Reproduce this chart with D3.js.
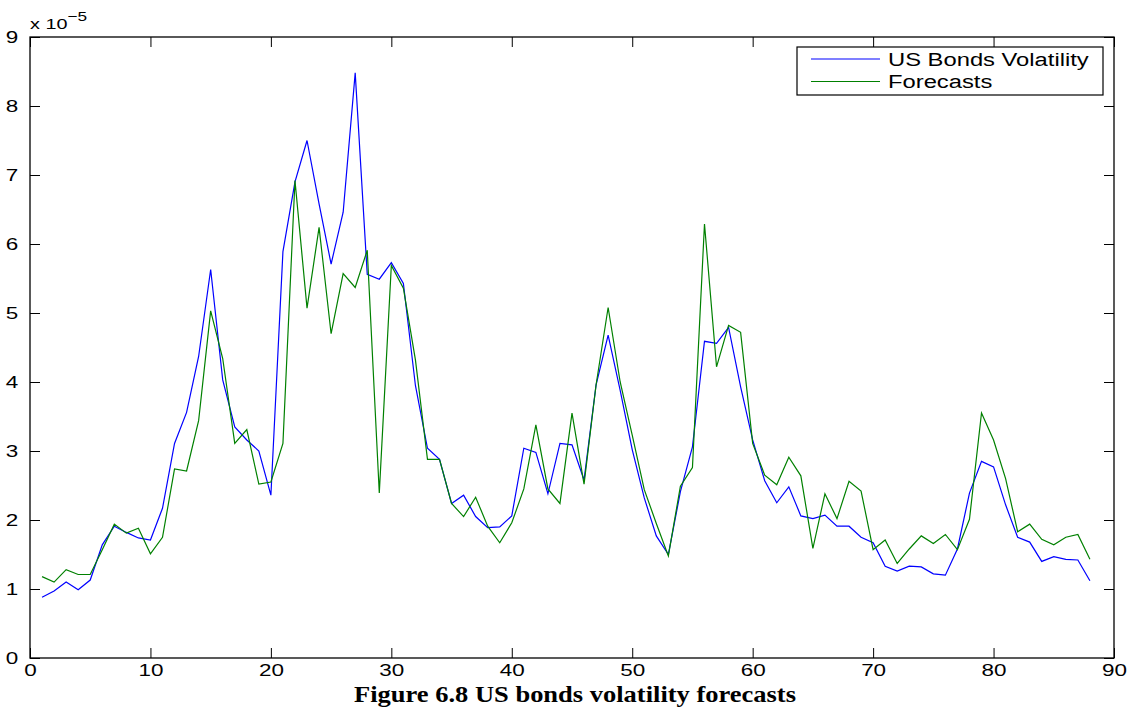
<!DOCTYPE html>
<html>
<head>
<meta charset="utf-8">
<script src="https://cdn.jsdelivr.net/npm/d3@7"></script>
<style>
  body { margin: 0; background: #fff; }
  svg { display: block; font-family: "Liberation Sans", Arial, sans-serif; }
</style>
</head>
<body>
<div id="chart"></div>
<script>
// values are in units of 1e-5
const days = d3.range(1, 89);
const actualVol = [
  0.88, 0.97, 1.10, 0.99, 1.13, 1.64, 1.91, 1.82, 1.74, 1.71,
  2.17, 3.11, 3.56, 4.37, 5.63, 4.03, 3.35, 3.16, 3.00, 2.36,
  5.89, 6.90, 7.50, 6.58, 5.71, 6.46, 8.48, 5.56, 5.49, 5.73,
  5.43, 3.95, 3.04, 2.88, 2.24, 2.36, 2.05, 1.89, 1.90, 2.06,
  3.04, 2.98, 2.38, 3.11, 3.09, 2.58, 3.96, 4.68, 3.88, 3.02,
  2.32, 1.77, 1.50, 2.41, 3.06, 4.59, 4.56, 4.79, 3.93, 3.16,
  2.57, 2.25, 2.48, 2.06, 2.02, 2.07, 1.91, 1.91, 1.75, 1.67,
  1.33, 1.26, 1.33, 1.32, 1.22, 1.20, 1.58, 2.39, 2.85, 2.77,
  2.22, 1.75, 1.68, 1.40, 1.47, 1.43, 1.42, 1.12
];
const forecastVol = [
  1.18, 1.10, 1.28, 1.21, 1.21, 1.57, 1.94, 1.81, 1.88, 1.51,
  1.75, 2.74, 2.71, 3.44, 5.03, 4.34, 3.11, 3.31, 2.52, 2.55,
  3.11, 6.92, 5.07, 6.24, 4.70, 5.57, 5.37, 5.91, 2.39, 5.69,
  5.36, 4.32, 2.88, 2.88, 2.24, 2.05, 2.33, 1.91, 1.67, 1.96,
  2.45, 3.38, 2.45, 2.24, 3.55, 2.52, 3.96, 5.08, 4.00, 3.23,
  2.44, 1.95, 1.48, 2.49, 2.76, 6.29, 4.22, 4.82, 4.72, 3.11,
  2.65, 2.51, 2.91, 2.64, 1.59, 2.38, 2.02, 2.56, 2.42, 1.57,
  1.71, 1.37, 1.58, 1.77, 1.66, 1.79, 1.57, 2.01, 3.55, 3.16,
  2.60, 1.83, 1.94, 1.72, 1.64, 1.75, 1.79, 1.43
];
const xTicks = d3.range(0, 91, 10);
const yTicks = d3.range(0, 10, 1);
const seriesNames = ['US Bonds Volatility', 'Forecasts'];
const seriesColors = ['#0000ff', '#008000'];
const caption = 'Figure 6.8 US bonds volatility forecasts';

const W = 1131, H = 709;
const margin = { top: 37, right: 17, bottom: 51, left: 30 };
const width = W - margin.left - margin.right;
const height = H - margin.top - margin.bottom;
const stretch = 1.32; // glyphs in the original are wider than normal

const svg = d3.select('#chart').append('svg')
  .attr('width', W).attr('height', H);
const g = svg.append('g')
  .attr('transform', `translate(${margin.left},${margin.top})`);

const x = d3.scaleLinear().domain([0, 90]).range([0, width]);
const y = d3.scaleLinear().domain([0, 9]).range([height, 0]);

function widen(sel) {
  sel.each(function() {
    const w = this.getComputedTextLength();
    d3.select(this).attr('textLength', w * stretch).attr('lengthAdjust', 'spacingAndGlyphs');
  });
}

// axes: ticks point inward, box all round
const xAxis = g.append('g').attr('transform', `translate(0,${height})`)
  .call(d3.axisBottom(x).tickValues(xTicks).tickSize(-10).tickPadding(8).tickSizeOuter(0));
const xTop = g.append('g')
  .call(d3.axisTop(x).tickValues(xTicks).tickSize(-10).tickFormat('').tickSizeOuter(0));
const yAxis = g.append('g')
  .call(d3.axisLeft(y).tickValues(yTicks).tickSize(-10).tickPadding(10).tickSizeOuter(0));
const yRight = g.append('g').attr('transform', `translate(${width},0)`)
  .call(d3.axisRight(y).tickValues(yTicks).tickSize(-10).tickFormat('').tickSizeOuter(0));

[xAxis, xTop, yAxis, yRight].forEach(a => {
  a.attr('font-family', null);
  a.select('.domain').remove();
  a.selectAll('.tick line').attr('stroke', '#000').attr('stroke-width', 1);
});
g.append('rect').attr('width', width).attr('height', height)
  .attr('fill', 'none').attr('stroke', '#000').attr('stroke-width', 1.3);

xAxis.selectAll('text').attr('font-size', 17).attr('dy', '0.56em');
yAxis.selectAll('text').attr('font-size', 17).attr('dx', '-0.1em');
widen(xAxis.selectAll('text'));
widen(yAxis.selectAll('text'));

// exponent label
const expo = g.append('text').attr('x', 0).attr('y', -8).attr('font-size', 15);
expo.append('tspan').text('x 10');
expo.append('tspan').attr('dy', -8).attr('font-size', 13).text('\u22125');
widen(expo);

// lines
const line = d3.line().x((d, i) => x(days[i])).y(d => y(d));
[actualVol, forecastVol].forEach((s, k) => {
  g.append('path').datum(s)
    .attr('fill', 'none')
    .attr('stroke', seriesColors[k])
    .attr('stroke-width', 1.2)
    .attr('d', line);
});

// legend
const lg = g.append('g').attr('transform', `translate(${width - 317},${10})`);
lg.append('rect').attr('width', 306).attr('height', 48)
  .attr('fill', '#fff').attr('stroke', '#000').attr('stroke-width', 1.2);
seriesNames.forEach((name, k) => {
  const yy = 12 + k * 22.5;
  lg.append('line').attr('x1', 14).attr('x2', 83).attr('y1', yy).attr('y2', yy)
    .attr('stroke', seriesColors[k]).attr('stroke-width', 1.2);
  const t = lg.append('text').attr('x', 91).attr('y', yy + 6.5)
    .attr('font-size', 18).text(name);
  widen(t);
});

// caption
svg.append('text')
  .attr('x', 575).attr('y', 702)
  .attr('text-anchor', 'middle')
  .style('font-family', '"Liberation Serif", "Times New Roman", serif')
  .attr('font-weight', 'bold')
  .attr('font-size', 24)
  .attr('textLength', 442)
  .attr('lengthAdjust', 'spacingAndGlyphs')
  .text(caption);
</script>
</body>
</html>
